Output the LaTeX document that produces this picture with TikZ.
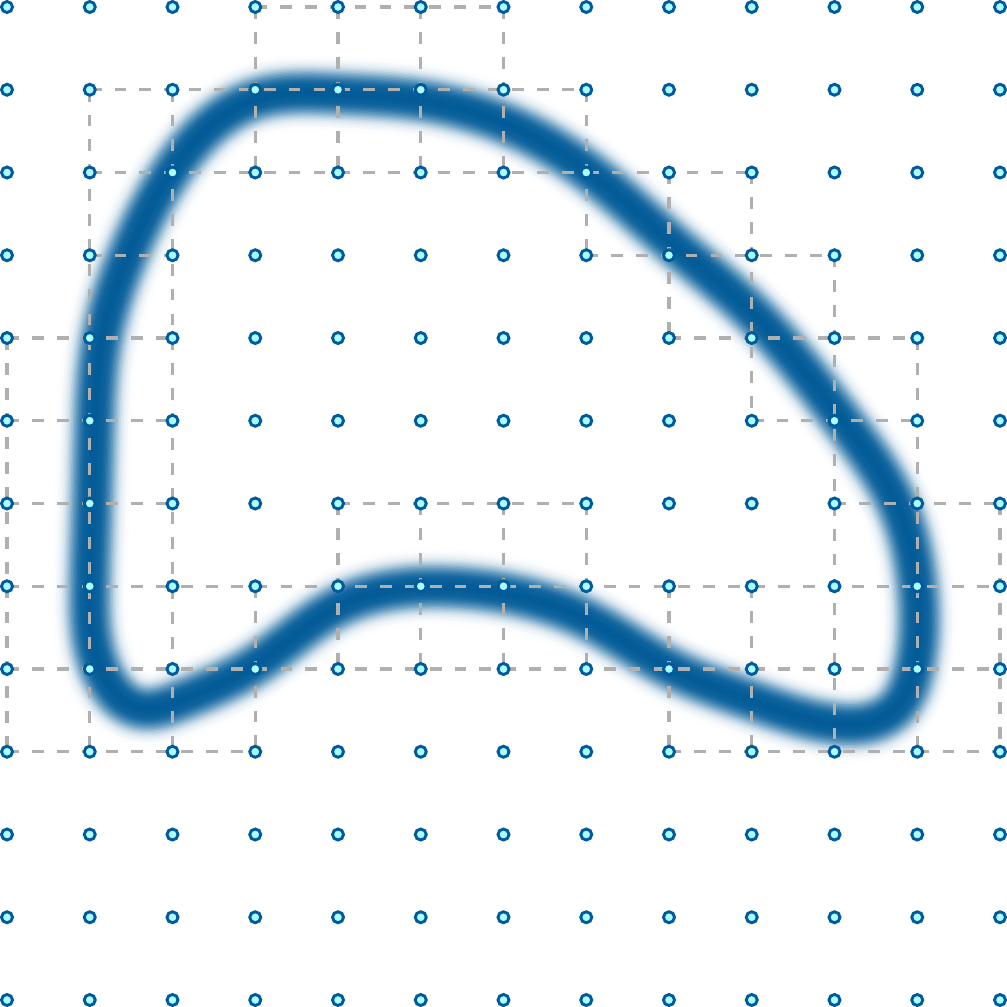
\documentclass[tikz,border=0pt]{standalone}
\usetikzlibrary{hobby}
\definecolor{cblue}{RGB}{3,92,152}
\definecolor{dotfill}{RGB}{172,255,255}
\definecolor{dotline}{RGB}{0,90,156}
\definecolor{gridgray}{RGB}{176,176,176}
\begin{document}
\begin{tikzpicture}[x=1cm,y=-1cm,
  cellline/.style={gridgray, line width=1.15pt, dash pattern=on 4.05pt off 4.5pt},
  gdot/.style={draw=dotline, fill=dotfill, line width=1.0pt}]
\useasboundingbox (-0.0847,-0.0847) rectangle (12.0847,12.0847);
% blurred closed curve (stacked strokes approximating a soft glow)
\foreach \w/\c in {26/1,25/1,24/2,23/4,22/6,21/8,20/12,19/16,18/22,17/29,16/36,15/44,14/53,13/61,12/68,11/75,10/81,9/87,8/91,7/94,6/96,5/97,4/98,3/99,2/100}{
  \draw[line width=\w pt, cblue!\c!white, line join=round]
  plot[closed hobby] coordinates {
  (4.0,1.05) (5.0,1.13) (6.0,1.40) (7.0,1.97) (8.0,2.82) (9.0,3.69)
  (10.1,5.0) (10.75,6.0) (11.0,7.0) (10.96,8.0) (10.74,8.47) (10.4,8.65)
  (10.0,8.66) (9.0,8.38) (8.0,7.98) (7.0,7.40) (5.5,7.02)
  (4.0,7.25) (3.0,7.95) (2.1,8.38) (1.6,8.47) (1.22,8.17) (1.06,7.78)
  (1.0,7.0) (1.03,6.0) (1.06,5.0) (1.15,4.0) (1.46,3.0) (1.98,2.0) (3.0,1.12)};
}
% dashed cells: horizontal edges
\foreach \y/\a/\b in {0/3/6,1/1/7,2/1/9,3/1/2,3/7/10,4/0/2,4/8/11,5/0/2,5/9/11,6/0/2,6/4/7,6/10/12,7/0/12,8/0/12,9/0/3,9/8/12}
  \draw[cellline] (\a,\y) -- (\b,\y);
% dashed cells: vertical edges
\foreach \x/\a/\b in {0/4/9,1/1/9,2/1/9,3/0/2,3/7/9,4/0/2,4/6/8,5/0/2,5/6/8,6/0/2,6/6/8,7/1/3,7/6/8,8/2/4,8/7/9,9/2/5,9/7/9,10/3/9,11/4/9,12/6/9}
  \draw[cellline] (\x,\a) -- (\x,\b);
% grid dots
\foreach \i in {0,...,12}
  \foreach \j in {0,...,12}
    \draw[gdot] (\i,\j) circle (0.0665);
\end{tikzpicture}
\end{document}
